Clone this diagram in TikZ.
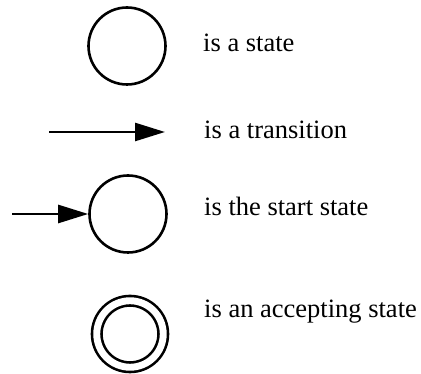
\documentclass[tikz,border=0pt]{standalone}
\usepackage{fontspec}
\setmainfont{Liberation Serif}
\usetikzlibrary{arrows.meta,positioning}

\begin{document}
\begin{tikzpicture}[x=1pt,y=1pt,
  state/.style={draw,circle,line width=2.6pt,minimum size=77pt,inner sep=0pt},
  accepting/.style={draw,circle,line width=2.6pt,double,double distance=6.9pt,minimum size=66.5pt,inner sep=0pt},
  trans/.style={line width=2.6pt,-{Triangle[length=30pt,width=18pt]}},
  legend/.style={anchor=base west,inner sep=0pt,font=\rmfamily\fontsize{26.5}{30}\selectfont}]
  \useasboundingbox (0,0) rectangle (421,374);

  % State
  \node[state] (st) at (127,328) {};
  \node[legend] (stlbl) at (203,322) {is a state};

  % Transition
  \coordinate (tra) at (49,242);
  \coordinate (trb) at (165,242);
  \draw[trans] (tra) -- (trb);
  \node[legend] (trlbl) at (204,235) {is a transition};

  % Start state
  \node[state] (start) at (128,160) {};
  \coordinate (init) at (12,160);
  \draw[trans] (init) -- (start);
  \node[legend] (startlbl) at (204,158) {is the start state};

  % Accepting state
  \node[accepting] (acc) at (130,40) {};
  \node[legend] (acclbl) at (204,56) {is an accepting state};
\end{tikzpicture}
\end{document}
